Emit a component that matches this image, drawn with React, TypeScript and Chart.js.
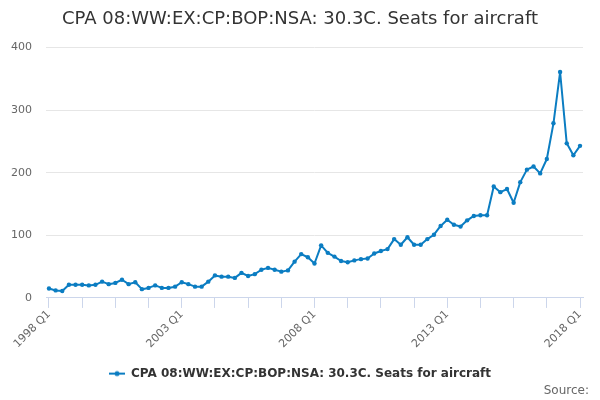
import React, { useEffect, useRef } from 'react';
import { Chart, registerables } from 'chart.js';

Chart.register(...registerables);

// 1998 Q1 .. 2018 Q1
const quarters: string[] = [];
for (let year = 1998; year <= 2018; year++) {
  for (let q = 1; q <= 4; q++) {
    if (year === 2018 && q > 1) break;
    quarters.push(`${year} Q${q}`);
  }
}

const seatsForAircraft: number[] = [
  15, 12, 11, 21,
  21, 21, 20, 21,
  26, 22, 24, 29,
  22, 25, 14, 16,
  20, 16, 16, 18,
  25, 22, 18, 18,
  26, 36, 34, 34,
  32, 40, 35, 38,
  45, 48, 45, 42,
  44, 58, 70, 65,
  55, 84, 72, 66,
  59, 57, 60, 62,
  63, 71, 75, 78,
  94, 85, 97, 85,
  85, 94, 101, 115,
  125, 117, 114, 124,
  131, 132, 132, 178,
  169, 174, 152, 185,
  205, 210, 199, 222,
  279, 361, 247, 228,
  243,
];

const xTickLabels = ['1998 Q1', '2003 Q1', '2008 Q1', '2013 Q1', '2018 Q1'];
const yTicks = [0, 100, 200, 300, 400];

const seriesName = 'CPA 08:WW:EX:CP:BOP:NSA: 30.3C. Seats for aircraft';
const lineColor = '#0b7dc2';
const fontFamily = '"DejaVu Sans", Verdana, Arial, sans-serif';

const makeLegendIcon = () => {
  const c = document.createElement('canvas');
  c.width = 16;
  c.height = 8;
  const ctx = c.getContext('2d');
  if (ctx) {
    ctx.strokeStyle = lineColor;
    ctx.lineWidth = 2;
    ctx.beginPath();
    ctx.moveTo(0, 4);
    ctx.lineTo(16, 4);
    ctx.stroke();
    ctx.fillStyle = lineColor;
    ctx.beginPath();
    ctx.arc(8, 4, 2.5, 0, Math.PI * 2);
    ctx.fill();
  }
  return c;
};

const App: React.FC = () => {
  const chartRef = useRef<HTMLCanvasElement>(null);
  const chartInstance = useRef<Chart | null>(null);

  useEffect(() => {
    document.body.style.margin = '0';
    if (!chartRef.current) return;
    const ctx = chartRef.current.getContext('2d');
    if (!ctx) return;

    if (chartInstance.current) {
      chartInstance.current.destroy();
    }

    const points = seatsForAircraft.map((v, i) => ({ x: i, y: v }));

    chartInstance.current = new Chart(ctx, {
      type: 'line',
      data: {
        datasets: [
          {
            label: seriesName,
            data: points,
            borderColor: lineColor,
            backgroundColor: lineColor,
            borderWidth: 2,
            borderJoinStyle: 'round',
            borderCapStyle: 'round',
            pointRadius: 2.2,
            pointBorderWidth: 0,
            pointHoverRadius: 3,
            tension: 0,
            yAxisID: 'y',
          },
        ],
      },
      options: {
        animation: false,
        responsive: true,
        maintainAspectRatio: false,
        layout: {
          padding: { left: 11, right: 11, top: 0, bottom: 2 },
        },
        plugins: {
          title: {
            display: true,
            text: 'CPA 08:WW:EX:CP:BOP:NSA: 30.3C. Seats for aircraft',
            color: '#333333',
            font: { family: fontFamily, size: 18, weight: 'normal' },
            padding: { top: 9, bottom: 17 },
          },
          subtitle: {
            display: true,
            position: 'bottom',
            align: 'end',
            text: 'Source:',
            color: '#666666',
            font: { family: fontFamily, size: 12, weight: 'normal' },
            padding: { top: -6, bottom: 0 },
          },
          legend: {
            position: 'bottom',
            labels: {
              color: '#333333',
              font: { family: fontFamily, size: 12, weight: 'bold' },
              usePointStyle: true,
              pointStyle: makeLegendIcon() as any,
              pointStyleWidth: 16,
              padding: 14,
            },
          },
          tooltip: { enabled: false },
        },
        scales: {
          x: {
            type: 'linear',
            min: -0.45,
            max: quarters.length - 1 + 0.45,
            afterBuildTicks: (axis: any) => {
              axis.ticks = quarters
                .map((_, i) => i)
                .filter((i) => i % 5 === 0)
                .map((i) => ({ value: i }));
            },
            afterFit: (axis: any) => {
              axis.paddingLeft = 0;
              axis.paddingRight = 0;
              axis.height += 3;
            },
            grid: {
              display: true,
              drawOnChartArea: false,
              drawTicks: true,
              tickLength: 10,
              color: '#ccd6eb',
            },
            border: { display: true, color: '#ccd6eb', width: 1 },
            ticks: {
              autoSkip: false,
              minRotation: 45,
              maxRotation: 45,
              color: '#666666',
              font: { family: fontFamily, size: 11 },
              padding: 0,
              callback: (value: any) => {
                const label = quarters[value as number];
                return xTickLabels.includes(label) ? label : '';
              },
            },
          },
          y: {
            min: 0,
            max: 400,
            afterBuildTicks: (axis: any) => {
              axis.ticks = yTicks.map((v) => ({ value: v }));
            },
            afterFit: (axis: any) => {
              axis.width = 35;
            },
            grid: { color: '#e6e6e6', drawTicks: false },
            border: { display: false },
            ticks: {
              color: '#666666',
              font: { family: fontFamily, size: 11 },
              padding: 14,
            },
          },
          // empty right-hand spacer so the plot ends where the reference does
          yRight: {
            position: 'right',
            display: true,
            min: 0,
            max: 400,
            afterFit: (axis: any) => {
              axis.width = 6;
            },
            grid: { display: false, drawTicks: false },
            border: { display: false },
            ticks: { display: false },
          },
        },
      },
    });

    return () => {
      if (chartInstance.current) {
        chartInstance.current.destroy();
        chartInstance.current = null;
      }
    };
  }, []);

  return (
    <div style={{ width: 600, height: 400, position: 'relative' }}>
      <canvas ref={chartRef} />
    </div>
  );
};

export default App;
